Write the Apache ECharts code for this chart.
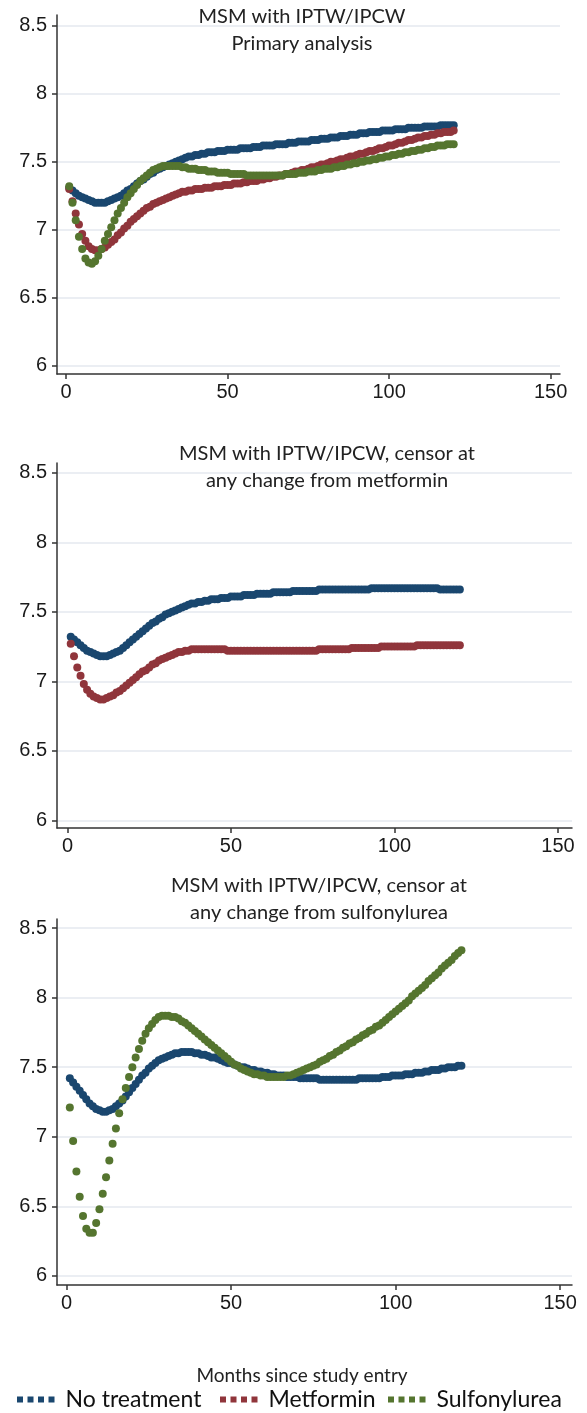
<!DOCTYPE html>
<html>
<head>
<meta charset="utf-8">
<script src="https://cdn.jsdelivr.net/npm/echarts@6/dist/echarts.min.js"></script>
<style>
html,body{margin:0;padding:0;background:#fff;}
#chart{width:587px;height:1413px;}
</style>
</head>
<body>
<div id="chart"></div>
<script>
// ---- Data (months since study entry, 1..120) ----
const months = Array.from({length: 120}, (_, i) => i + 1);
const xTicks = [0, 50, 100, 150];
const yTicks = [6, 6.5, 7, 7.5, 8, 8.5];
const seriesNames = ['No treatment', 'Metformin', 'Sulfonylurea'];
const panelTitles = [
  'MSM with IPTW/IPCW\nPrimary analysis',
  'MSM with IPTW/IPCW, censor at\nany change from metformin',
  'MSM with IPTW/IPCW, censor at\nany change from sulfonylurea'
];
const xAxisTitle = 'Months since study entry';

// Panel 1: primary analysis
const p1NoTreatment = [
  7.31,7.29,7.27,7.25,7.24,7.23,7.22,7.21,7.20,7.20,
  7.20,7.20,7.21,7.22,7.23,7.24,7.25,7.27,7.29,7.30,
  7.32,7.34,7.36,7.37,7.39,7.41,7.42,7.44,7.45,7.46,
  7.47,7.48,7.49,7.50,7.51,7.52,7.53,7.54,7.54,7.55,
  7.55,7.56,7.56,7.57,7.57,7.57,7.58,7.58,7.58,7.59,
  7.59,7.59,7.59,7.60,7.60,7.60,7.60,7.61,7.61,7.61,
  7.62,7.62,7.62,7.62,7.63,7.63,7.63,7.63,7.64,7.64,
  7.64,7.65,7.65,7.65,7.65,7.66,7.66,7.66,7.67,7.67,
  7.67,7.68,7.68,7.68,7.69,7.69,7.69,7.70,7.70,7.70,
  7.71,7.71,7.71,7.72,7.72,7.72,7.72,7.73,7.73,7.73,
  7.73,7.74,7.74,7.74,7.74,7.75,7.75,7.75,7.75,7.75,
  7.76,7.76,7.76,7.76,7.76,7.77,7.77,7.77,7.77,7.77
];
const p1Metformin = [
  7.30,7.21,7.12,7.04,6.97,6.92,6.88,6.86,6.85,6.85,
  6.86,6.87,6.89,6.91,6.93,6.96,6.98,7.01,7.03,7.06,
  7.08,7.10,7.12,7.14,7.16,7.17,7.19,7.20,7.21,7.22,
  7.23,7.24,7.25,7.26,7.27,7.28,7.28,7.29,7.29,7.30,
  7.30,7.30,7.31,7.31,7.31,7.32,7.32,7.32,7.33,7.33,
  7.33,7.34,7.34,7.34,7.35,7.35,7.36,7.36,7.36,7.37,
  7.37,7.38,7.38,7.39,7.39,7.40,7.40,7.41,7.41,7.42,
  7.43,7.43,7.44,7.44,7.45,7.46,7.46,7.47,7.48,7.48,
  7.49,7.50,7.50,7.51,7.52,7.52,7.53,7.54,7.54,7.55,
  7.56,7.56,7.57,7.58,7.58,7.59,7.60,7.60,7.61,7.62,
  7.62,7.63,7.64,7.64,7.65,7.66,7.66,7.67,7.68,7.68,
  7.69,7.69,7.70,7.70,7.71,7.71,7.72,7.72,7.72,7.73
];
const p1Sulfonylurea = [
  7.32,7.20,7.07,6.95,6.86,6.79,6.76,6.75,6.77,6.81,
  6.86,6.92,6.97,7.02,7.07,7.12,7.16,7.20,7.24,7.27,
  7.30,7.33,7.36,7.38,7.40,7.42,7.44,7.45,7.46,7.47,
  7.47,7.47,7.47,7.47,7.47,7.46,7.46,7.45,7.45,7.45,
  7.44,7.44,7.44,7.43,7.43,7.43,7.42,7.42,7.42,7.42,
  7.41,7.41,7.41,7.41,7.41,7.40,7.40,7.40,7.40,7.40,
  7.40,7.40,7.40,7.40,7.40,7.40,7.40,7.41,7.41,7.41,
  7.41,7.42,7.42,7.42,7.43,7.43,7.43,7.44,7.44,7.45,
  7.45,7.45,7.46,7.46,7.47,7.47,7.48,7.48,7.49,7.49,
  7.50,7.50,7.51,7.51,7.52,7.52,7.53,7.53,7.54,7.54,
  7.55,7.55,7.56,7.56,7.57,7.57,7.58,7.58,7.59,7.59,
  7.60,7.60,7.61,7.61,7.62,7.62,7.62,7.63,7.63,7.63
];

// Panel 2: censor at any change from metformin
const p2NoTreatment = [
  7.32,7.30,7.28,7.26,7.24,7.22,7.21,7.20,7.19,7.18,
  7.18,7.18,7.19,7.20,7.21,7.22,7.24,7.26,7.28,7.30,
  7.32,7.34,7.36,7.38,7.40,7.42,7.43,7.45,7.46,7.48,
  7.49,7.50,7.51,7.52,7.53,7.54,7.55,7.56,7.56,7.57,
  7.57,7.58,7.58,7.59,7.59,7.59,7.60,7.60,7.60,7.61,
  7.61,7.61,7.61,7.62,7.62,7.62,7.62,7.63,7.63,7.63,
  7.63,7.63,7.64,7.64,7.64,7.64,7.64,7.64,7.65,7.65,
  7.65,7.65,7.65,7.65,7.65,7.65,7.66,7.66,7.66,7.66,
  7.66,7.66,7.66,7.66,7.66,7.66,7.66,7.66,7.66,7.66,
  7.66,7.66,7.67,7.67,7.67,7.67,7.67,7.67,7.67,7.67,
  7.67,7.67,7.67,7.67,7.67,7.67,7.67,7.67,7.67,7.67,
  7.67,7.67,7.67,7.66,7.66,7.66,7.66,7.66,7.66,7.66
];
const p2Metformin = [
  7.27,7.18,7.10,7.04,6.98,6.94,6.91,6.89,6.88,6.87,
  6.87,6.88,6.89,6.90,6.92,6.93,6.95,6.97,6.99,7.01,
  7.03,7.05,7.07,7.08,7.10,7.12,7.13,7.15,7.16,7.17,
  7.18,7.19,7.20,7.21,7.21,7.22,7.22,7.23,7.23,7.23,
  7.23,7.23,7.23,7.23,7.23,7.23,7.23,7.23,7.22,7.22,
  7.22,7.22,7.22,7.22,7.22,7.22,7.22,7.22,7.22,7.22,
  7.22,7.22,7.22,7.22,7.22,7.22,7.22,7.22,7.22,7.22,
  7.22,7.22,7.22,7.22,7.22,7.22,7.23,7.23,7.23,7.23,
  7.23,7.23,7.23,7.23,7.23,7.23,7.24,7.24,7.24,7.24,
  7.24,7.24,7.24,7.24,7.24,7.25,7.25,7.25,7.25,7.25,
  7.25,7.25,7.25,7.25,7.25,7.25,7.26,7.26,7.26,7.26,
  7.26,7.26,7.26,7.26,7.26,7.26,7.26,7.26,7.26,7.26
];

// Panel 3: censor at any change from sulfonylurea
const p3NoTreatment = [
  7.42,7.39,7.36,7.33,7.30,7.27,7.24,7.22,7.20,7.19,
  7.18,7.18,7.19,7.20,7.22,7.24,7.26,7.29,7.32,7.35,
  7.38,7.41,7.44,7.46,7.49,7.51,7.53,7.55,7.56,7.57,
  7.58,7.59,7.60,7.60,7.61,7.61,7.61,7.61,7.60,7.60,
  7.59,7.59,7.58,7.57,7.57,7.56,7.55,7.54,7.53,7.53,
  7.52,7.51,7.50,7.50,7.49,7.48,7.48,7.47,7.47,7.46,
  7.46,7.45,7.45,7.44,7.44,7.44,7.43,7.43,7.43,7.43,
  7.42,7.42,7.42,7.42,7.42,7.42,7.41,7.41,7.41,7.41,
  7.41,7.41,7.41,7.41,7.41,7.41,7.41,7.41,7.42,7.42,
  7.42,7.42,7.42,7.42,7.42,7.43,7.43,7.43,7.44,7.44,
  7.44,7.44,7.45,7.45,7.45,7.46,7.46,7.46,7.47,7.47,
  7.48,7.48,7.48,7.49,7.49,7.50,7.50,7.50,7.51,7.51
];
const p3Sulfonylurea = [
  7.21,6.97,6.75,6.57,6.43,6.34,6.31,6.31,6.38,6.48,
  6.59,6.71,6.83,6.95,7.06,7.17,7.27,7.35,7.43,7.50,
  7.57,7.63,7.69,7.74,7.78,7.81,7.84,7.86,7.87,7.87,
  7.87,7.86,7.86,7.85,7.83,7.82,7.80,7.78,7.76,7.74,
  7.72,7.70,7.68,7.66,7.64,7.62,7.60,7.58,7.56,7.54,
  7.52,7.51,7.49,7.48,7.47,7.46,7.45,7.45,7.44,7.44,
  7.43,7.43,7.43,7.43,7.43,7.43,7.44,7.44,7.45,7.46,
  7.47,7.48,7.49,7.50,7.51,7.52,7.54,7.55,7.56,7.58,
  7.59,7.61,7.62,7.64,7.65,7.67,7.68,7.70,7.71,7.73,
  7.74,7.76,7.77,7.79,7.80,7.82,7.84,7.86,7.88,7.90,
  7.92,7.94,7.96,7.98,8.01,8.03,8.05,8.07,8.09,8.12,
  8.14,8.16,8.18,8.21,8.23,8.25,8.27,8.30,8.32,8.34
];

// ---- Styling ----
const colors = {'No treatment': '#1a476f', 'Metformin': '#90353b', 'Sulfonylurea': '#55752f'};
const axisColor = '#333333';
const labelFont = {fontFamily: '"Liberation Sans", Arial, sans-serif', fontSize: 20, color: '#1a1a1a'};

// panel layout (pixels)
const panels = [
  {grid: {left: 57, top: 15, width: 503, height: 359}, x: [-2.79, 152.9], y: [5.94, 8.58],
   titleLeft: 297, titleTop: -2,
   series: [['No treatment', p1NoTreatment], ['Metformin', p1Metformin], ['Sulfonylurea', p1Sulfonylurea]]},
  {grid: {left: 57, top: 463, width: 515, height: 365}, x: [-3.2, 154.3], y: [5.945, 8.57],
   titleLeft: 322, titleTop: 435,
   series: [['No treatment', p2NoTreatment], ['Metformin', p2Metformin]]},
  {grid: {left: 57, top: 919, width: 515, height: 366}, x: [-2.9, 153.6], y: [5.935, 8.565],
   titleLeft: 314, titleTop: 867,
   series: [['No treatment', p3NoTreatment], ['Sulfonylurea', p3Sulfonylurea]]}
];

const grid = [], xAxis = [], yAxis = [], series = [], title = [];
panels.forEach((p, i) => {
  grid.push(Object.assign({containLabel: false}, p.grid));
  xAxis.push({
    type: 'value', gridIndex: i, min: p.x[0], max: p.x[1],
    axisLine: {show: true, onZero: false, lineStyle: {color: axisColor, width: 1.5}},
    axisTick: {show: true, length: 5, customValues: xTicks, lineStyle: {color: axisColor, width: 1.5}},
    axisLabel: Object.assign({margin: 8, customValues: xTicks}, labelFont),
    splitLine: {show: false}
  });
  yAxis.push({
    type: 'value', gridIndex: i, min: p.y[0], max: p.y[1],
    axisLine: {show: true, onZero: false, lineStyle: {color: axisColor, width: 1.5}},
    axisTick: {show: true, length: 5, customValues: yTicks, lineStyle: {color: axisColor, width: 1.5}},
    axisLabel: Object.assign({margin: 10, customValues: yTicks}, labelFont),
    splitLine: {show: true, lineStyle: {color: '#e5e8ef', width: 1.5}}
  });
  title.push({
    text: panelTitles[i], left: p.titleLeft, top: p.titleTop, textAlign: 'center',
    textStyle: {fontFamily: 'Lato, "Open Sans", sans-serif', fontWeight: 'normal', fontSize: 20, lineHeight: 27, color: '#222'}
  });
  p.series.forEach(([name, vals]) => {
    series.push({
      type: 'scatter', name: name, xAxisIndex: i, yAxisIndex: i,
      symbol: 'circle', symbolSize: 8,
      itemStyle: {color: colors[name], opacity: 1},
      data: vals.map((v, k) => [months[k], v]),
      silent: true
    });
  });
});

title.push({
  text: xAxisTitle, left: 297, top: 1361, textAlign: 'center',
  textStyle: {fontFamily: 'Lato, "Open Sans", sans-serif', fontWeight: 'normal', fontSize: 19, color: '#222'}
});

const squares = 'path://M0,0h6v6h-6z M10.5,0h6v6h-6z M21,0h6v6h-6z M31.5,0h6v6h-6z';
const legendLefts = [12, 215, 383];
const legend = seriesNames.map((n, i) => ({
  data: [{name: n, icon: squares}],
  left: legendLefts[i], top: 1383,
  itemWidth: 37.5, itemHeight: 6, itemGap: 0,
  selectedMode: false,
  textStyle: {fontFamily: 'Lato, "Open Sans", sans-serif', fontSize: 23, color: '#111', padding: [0, 0, 0, 6]}
}));

const chart = echarts.init(document.getElementById('chart'), null, {renderer: 'canvas'});
chart.setOption({
  animation: false,
  backgroundColor: '#ffffff',
  title, legend, grid, xAxis, yAxis, series
});
</script>
</body>
</html>
